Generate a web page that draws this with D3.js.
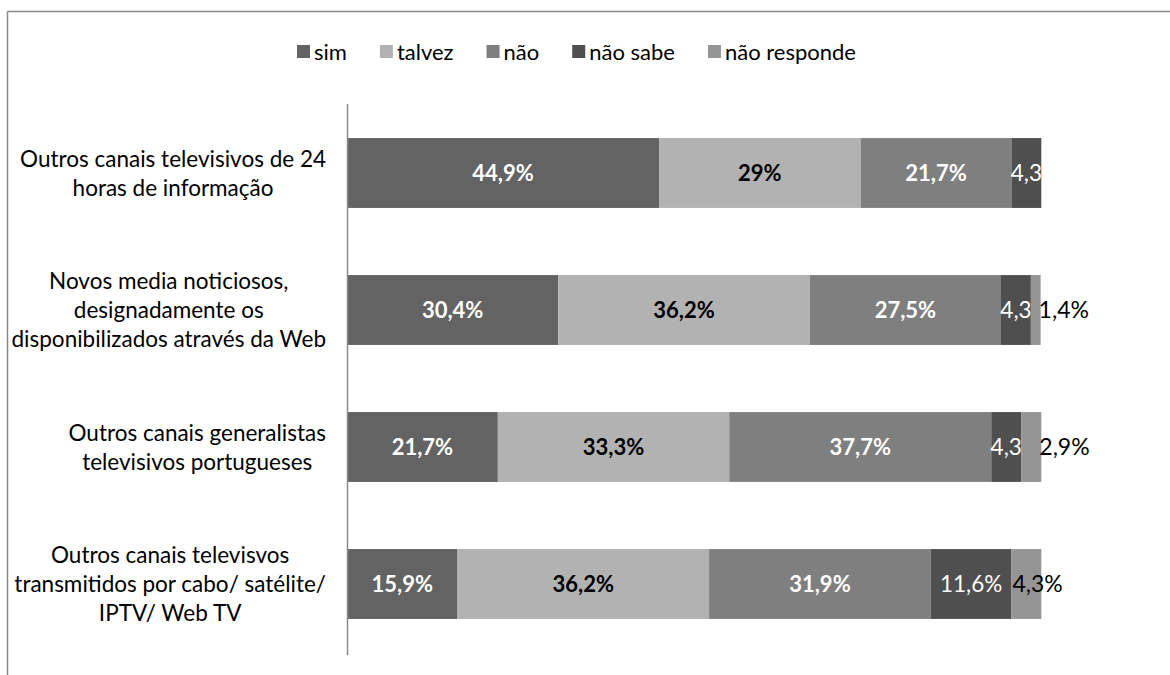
<!DOCTYPE html>
<html>
<head>
<meta charset="utf-8">
<script src="https://cdn.jsdelivr.net/npm/d3@7"></script>
<style>
  html, body { margin: 0; padding: 0; background: #fff; }
  svg { display: block; font-family: Lato, "Open Sans", sans-serif; }
</style>
</head>
<body>
<svg id="chart" width="1170" height="675"></svg>
<script>
// Categories (top to bottom), each label split into its wrapped lines
const categories = [
  "Outros canais televisivos de 24 horas de informação",
  "Novos media noticiosos, designadamente os disponibilizados através da Web",
  "Outros canais generalistas televisivos portugueses",
  "Outros canais televisvos transmitidos por cabo/ satélite/ IPTV/ Web TV"
];
const categoryLines = [
  ["Outros canais televisivos de 24", "horas de informação"],
  ["Novos media noticiosos,", "designadamente os", "disponibilizados através da Web"],
  ["Outros canais generalistas", "televisivos portugueses"],
  ["Outros canais televisvos", "transmitidos por cabo/ satélite/", "IPTV/ Web TV"]
];

// Series (percentages per category)
const seriesNames = ["sim", "talvez", "não", "não sabe", "não responde"];
const sim         = [44.9, 30.4, 21.7, 15.9];
const talvez      = [29.0, 36.2, 33.3, 36.2];
const nao         = [21.7, 27.5, 37.7, 31.9];
const naoSabe     = [4.3, 4.3, 4.3, 11.6];
const naoResponde = [0, 1.4, 2.9, 4.3];
const seriesValues = [sim, talvez, nao, naoSabe, naoResponde];

const colors = ["#636363", "#b2b2b2", "#7f7f7f", "#4f4f4f", "#959595"];
const labelColors = ["#ffffff", "#000000", "#ffffff", "#ffffff", "#000000"];
const labelWeights = ["bold", "bold", "bold", "normal", "normal"];
const labelSizes = [22, 22, 22, 22.5, 23];

const svg = d3.select("#chart");

// Outer frame (top and left edges)
svg.append("line").attr("x1", 7.5).attr("x2", 1170).attr("y1", 11.5).attr("y2", 11.5)
  .attr("stroke", "#8a8a8a").attr("stroke-width", 1.5);
svg.append("line").attr("x1", 7.5).attr("x2", 7.5).attr("y1", 11.5).attr("y2", 675)
  .attr("stroke", "#8a8a8a").attr("stroke-width", 1.5);

// Scales
const x = d3.scaleLinear().domain([0, 100]).range([347, 1042]);
const y = d3.scaleBand().domain(categories).range([104.5, 652.5])
  .paddingInner(0.49).paddingOuter(0.245);

// Stack data
const rows = categories.map((c, i) => {
  const r = { cat: c };
  seriesNames.forEach((s, k) => r[s] = seriesValues[k][i]);
  return r;
});
const stacked = d3.stack().keys(seriesNames)(rows);

const fmt = v => (Number.isInteger(v) ? String(v) : v.toFixed(1).replace(".", ",")) + "%";

// Bars
const layers = svg.append("g").selectAll("g").data(stacked).join("g")
  .attr("fill", (d, k) => colors[k]);
layers.selectAll("rect").data(d => d.map(p => ({ p, key: d.key })))
  .join("rect")
  .attr("x", d => x(d.p[0]))
  .attr("y", d => y(d.p.data.cat))
  .attr("width", d => x(d.p[1]) - x(d.p[0]))
  .attr("height", y.bandwidth());

// Value labels
stacked.forEach((layer, k) => {
  layer.forEach(p => {
    const v = p.data[layer.key];
    if (!v) return;
    const x0 = x(p[0]), x1 = x(p[1]), w = x1 - x0;
    const cy = y(p.data.cat) + y.bandwidth() / 2;
    const t = svg.append("text")
      .attr("y", cy)
      .attr("dy", "0.36em")
      .attr("font-size", labelSizes[k])
      .attr("font-weight", labelWeights[k])
      .attr("fill", labelColors[k]);
    if (k === 4) {
      // narrow end segment: label spills to the right
      t.attr("text-anchor", "start").attr("x", w < 25 ? x1 - 2 : x0 + 1).text(fmt(v));
    } else {
      const txt = w < 40 ? fmt(v).replace("%", "") : fmt(v);
      t.attr("text-anchor", "middle").attr("x", (x0 + x1) / 2).text(txt);
    }
  });
});

// Category axis line
svg.append("line").attr("x1", 347.5).attr("x2", 347.5).attr("y1", 104).attr("y2", 655)
  .attr("stroke", "#8a8a8a").attr("stroke-width", 1.5);

// Category labels: each block right-aligned to the axis, lines centred inside it
const LINE = 29;
categoryLines.forEach((lines, i) => {
  const g = svg.append("g");
  const cy = y(categories[i]) + y.bandwidth() / 2;
  const texts = lines.map((ln, j) => g.append("text")
    .attr("font-size", 22.5).attr("fill", "#000")
    .attr("text-anchor", "middle")
    .attr("y", cy + (j - (lines.length - 1) / 2) * LINE)
    .attr("dy", "0.36em")
    .text(ln));
  const maxW = d3.max(texts, t => t.node().getComputedTextLength());
  const cx = 326 - maxW / 2;
  texts.forEach(t => t.attr("x", cx));
});

// Legend: items laid out left to right from measured text widths
const lg = svg.append("g");
let lx = 297;
seriesNames.forEach((s, k) => {
  lg.append("rect").attr("x", lx).attr("y", 45).attr("width", 13).attr("height", 13)
    .attr("fill", colors[k]);
  const t = lg.append("text").attr("x", lx + 17).attr("y", 52).attr("dy", "0.36em")
    .attr("font-size", 22).attr("fill", "#000").text(s);
  lx += 17 + t.node().getComputedTextLength() + 33;
});
</script>
</body>
</html>
